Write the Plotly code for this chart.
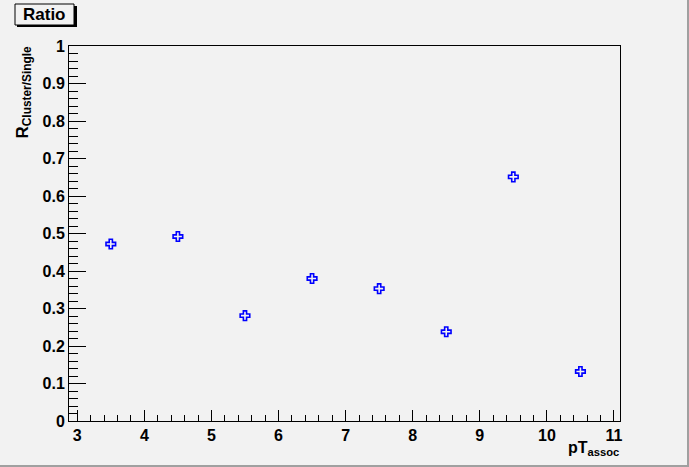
import plotly.graph_objects as go

# pT_assoc bin centres and cluster/single ratio
pt_assoc = [3.5, 4.5, 5.5, 6.5, 7.5, 8.5, 9.5, 10.5]
ratio = [0.472, 0.492, 0.281, 0.380, 0.353, 0.238, 0.651, 0.132]

W, H = 689, 467
L, R, T, B = 69, 69, 46, 46
BG = "#f2f2f2"
FONT = "Liberation Sans"


def px(x):
    return (x - L) / (W - L - R)


def py(y):
    return (H - B - y) / (H - T - B)


fig = go.Figure(go.Scatter(
    x=pt_assoc, y=ratio,
    mode="markers",
    marker=dict(symbol="cross-open", size=8, color="#0000ff",
                line=dict(color="#0000ff", width=1.6)),
    showlegend=False,
))

axis_common = dict(
    showgrid=False, zeroline=False,
    showline=True, linecolor="black", linewidth=1, mirror=True,
    ticks="inside", tickcolor="black", tickwidth=1,
    tickfont=dict(family=FONT, size=16, color="black", weight="bold"),
)

fig.update_xaxes(
    range=[2.877, 11.09], tick0=3, dtick=1, ticklen=11,
    minor=dict(dtick=0.2, tick0=3, ticks="inside", ticklen=6,
               tickcolor="black", showgrid=False),
    **axis_common,
)
fig.update_yaxes(
    range=[0, 1], tick0=0, dtick=0.1, ticklen=17,
    minor=dict(dtick=0.02, tick0=0, ticks="inside", ticklen=9,
               tickcolor="black", showgrid=False),
    **axis_common,
)

shapes = [
    # title box shadow + box
    dict(type="rect", xref="paper", yref="paper",
         x0=px(17), x1=px(77), y0=py(27), y1=py(6),
         fillcolor="black", line=dict(width=0)),
    dict(type="rect", xref="paper", yref="paper",
         x0=px(15), x1=px(74), y0=py(25), y1=py(4),
         fillcolor=BG, line=dict(color="black", width=1)),
    # canvas bevel
    dict(type="rect", xref="paper", yref="paper",
         x0=px(687), x1=px(689), y0=py(467), y1=py(0),
         fillcolor="#a0a0a0", line=dict(width=0)),
    dict(type="rect", xref="paper", yref="paper",
         x0=px(0), x1=px(689), y0=py(467), y1=py(465),
         fillcolor="#a0a0a0", line=dict(width=0)),
]

annotations = [
    dict(text="Ratio", xref="paper", yref="paper",
         x=px(44.5), y=py(14.5), xanchor="center", yanchor="middle",
         showarrow=False,
         font=dict(family=FONT, size=17, color="black", weight="bold")),
    dict(text="R<sub>Cluster/Single</sub>", xref="paper", yref="paper",
         x=px(24), y=py(44), xanchor="center", yanchor="top",
         textangle=-90, showarrow=False,
         font=dict(family=FONT, size=17, color="black", weight="bold")),
    dict(text="pT<sub>assoc</sub>", xref="paper", yref="paper",
         x=px(621), y=py(437), xanchor="right", yanchor="top",
         showarrow=False,
         font=dict(family=FONT, size=16, color="black", weight="bold")),
]

fig.update_layout(
    width=W, height=H,
    margin=dict(l=L, r=R, t=T, b=B),
    paper_bgcolor=BG, plot_bgcolor=BG,
    shapes=shapes, annotations=annotations,
    showlegend=False,
)

fig.write_html("out.html", config={"displayModeBar": False},
               post_script="document.body.style.margin='0';")
